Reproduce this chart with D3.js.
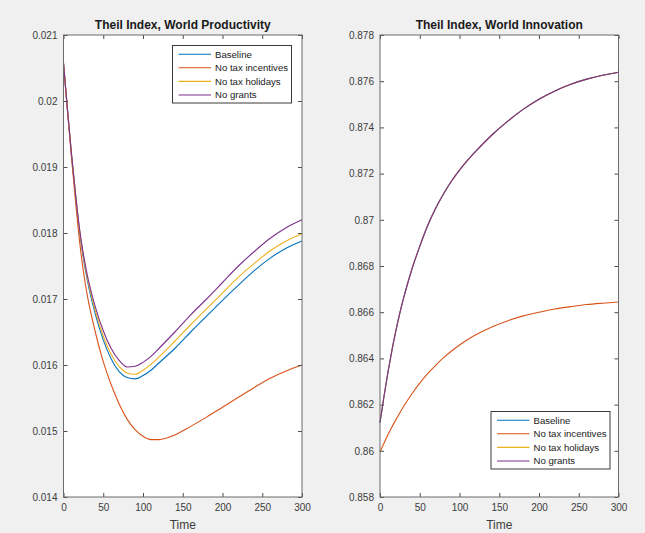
<!DOCTYPE html>
<html>
<head>
<meta charset="utf-8">
<script src="https://cdn.jsdelivr.net/npm/d3@7"></script>
<style>
  html, body { margin: 0; padding: 0; background: #f0f0f0; }
  svg { display: block; }
  text { font-family: "Liberation Sans", Arial, Helvetica, sans-serif; }
</style>
</head>
<body>
<svg id="fig" width="645" height="533"></svg>
<script>
// Simulation periods
const time = [0, 5, 10, 15, 20, 25, 30, 40, 50, 60, 70, 80, 90, 100, 110, 120,
              140, 160, 180, 200, 220, 240, 260, 280, 300];

// Theil index of world productivity, per scenario
const prodBaseline = [0.02057, 0.01987, 0.01920, 0.01860, 0.01804, 0.01762, 0.01728, 0.01677, 0.01638,
  0.01609, 0.01590, 0.01581, 0.01579, 0.01584, 0.01592, 0.01603, 0.01625, 0.01650, 0.01674, 0.01698,
  0.01721, 0.01743, 0.01762, 0.01777, 0.01788];
const prodNoIncentives = [0.02057, 0.01985, 0.01915, 0.01850, 0.01790, 0.01742, 0.01705, 0.01650, 0.01605,
  0.01570, 0.01541, 0.01518, 0.01502, 0.01492, 0.01487, 0.01487, 0.01494, 0.01507, 0.01521, 0.01536,
  0.01551, 0.01566, 0.01580, 0.01591, 0.01600];
const prodNoHolidays = [0.02057, 0.01987, 0.01920, 0.01860, 0.01806, 0.01765, 0.01732, 0.01682, 0.01644,
  0.01616, 0.01598, 0.01588, 0.01586, 0.01592, 0.01601, 0.01612, 0.01636, 0.01661, 0.01685, 0.01709,
  0.01733, 0.01754, 0.01773, 0.01788, 0.01799];
const prodNoGrants = [0.02057, 0.01987, 0.01920, 0.01860, 0.01808, 0.01768, 0.01736, 0.01688, 0.01652,
  0.01625, 0.01607, 0.01597, 0.01598, 0.01604, 0.01613, 0.01625, 0.01650, 0.01676, 0.01700, 0.01725,
  0.01750, 0.01772, 0.01792, 0.01808, 0.01820];

// Theil index of world innovation, per scenario
const innoBaseline = [0.86122, 0.86235, 0.86340, 0.86435, 0.86520, 0.86597, 0.86665, 0.86785, 0.86885,
  0.86975, 0.87050, 0.87113, 0.87168, 0.87215, 0.87257, 0.87295, 0.87365, 0.87425, 0.87478, 0.87522,
  0.87558, 0.87587, 0.87609, 0.87626, 0.87639];
const innoNoIncentives = [0.85995, 0.86033, 0.86069, 0.86103, 0.86135, 0.86165, 0.86194, 0.86246, 0.86293,
  0.86334, 0.86370, 0.86403, 0.86432, 0.86458, 0.86481, 0.86501, 0.86535, 0.86562, 0.86584, 0.86600,
  0.86614, 0.86624, 0.86633, 0.86639, 0.86644];
const innoNoHolidays = [0.86122, 0.86235, 0.86340, 0.86435, 0.86520, 0.86597, 0.86665, 0.86785, 0.86885,
  0.86975, 0.87050, 0.87113, 0.87168, 0.87215, 0.87257, 0.87295, 0.87365, 0.87425, 0.87478, 0.87522,
  0.87558, 0.87587, 0.87609, 0.87626, 0.87639];
const innoNoGrants = [0.86122, 0.86235, 0.86340, 0.86435, 0.86520, 0.86597, 0.86665, 0.86785, 0.86885,
  0.86975, 0.87050, 0.87113, 0.87168, 0.87215, 0.87257, 0.87295, 0.87365, 0.87425, 0.87478, 0.87522,
  0.87558, 0.87587, 0.87609, 0.87626, 0.87639];

const seriesNames = ["Baseline", "No tax incentives", "No tax holidays", "No grants"];
const seriesColors = ["#0072BD", "#D95319", "#EDB120", "#7E2F8E"];

const timeTicks = [0, 50, 100, 150, 200, 250, 300];
const prodTicks = [0.014, 0.015, 0.016, 0.017, 0.018, 0.019, 0.020, 0.021];
const innoTicks = [0.858, 0.860, 0.862, 0.864, 0.866, 0.868, 0.870, 0.872, 0.874, 0.876, 0.878];

const svg = d3.select("#fig");
const fmt = d => String(+d.toFixed(3));

function panel(opts) {
  const { left, right, top, bottom, yDomain, yTicks, title, series, legendAt } = opts;
  const x = d3.scaleLinear().domain([0, 300]).range([left, right]);
  const y = d3.scaleLinear().domain(yDomain).range([bottom, top]);
  const g = svg.append("g");

  g.append("rect")
    .attr("x", left).attr("y", top)
    .attr("width", right - left).attr("height", bottom - top)
    .attr("fill", "#ffffff");

  const line = d3.line()
    .x((d, i) => x(time[i]))
    .y(d => y(d))
    .curve(d3.curveMonotoneX);

  series.forEach((vals, k) => {
    g.append("path")
      .datum(vals)
      .attr("d", line)
      .attr("fill", "none")
      .attr("stroke", seriesColors[k])
      .attr("stroke-width", 1.1);
  });

  const styleAxis = sel => {
    sel.select(".domain").remove();
    sel.selectAll("line").attr("stroke", "#4d4d4d");
    sel.selectAll("text").attr("fill", "#3c3c3c").style("font-size", "10px");
  };

  g.append("g").attr("transform", `translate(0,${bottom})`)
    .call(d3.axisBottom(x).tickValues(timeTicks).tickSize(-4).tickPadding(7).tickFormat(d3.format("d")))
    .call(styleAxis);
  g.append("g").attr("transform", `translate(0,${top})`)
    .call(d3.axisTop(x).tickValues(timeTicks).tickSize(-4).tickFormat(""))
    .call(styleAxis);
  g.append("g").attr("transform", `translate(${left},0)`)
    .call(d3.axisLeft(y).tickValues(yTicks).tickSize(-4).tickPadding(6).tickFormat(fmt))
    .call(styleAxis);
  g.append("g").attr("transform", `translate(${right},0)`)
    .call(d3.axisRight(y).tickValues(yTicks).tickSize(-4).tickFormat(""))
    .call(styleAxis);

  g.append("rect")
    .attr("x", left).attr("y", top)
    .attr("width", right - left).attr("height", bottom - top)
    .attr("fill", "none").attr("stroke", "#6b6b6b").attr("stroke-width", 1);

  g.append("text")
    .attr("x", (left + right) / 2).attr("y", top - 6)
    .attr("text-anchor", "middle")
    .style("font-size", "12px").style("font-weight", "bold")
    .attr("fill", "#1a1a1a")
    .text(title);

  g.append("text")
    .attr("x", (left + right) / 2).attr("y", bottom + 32)
    .attr("text-anchor", "middle")
    .style("font-size", "12px")
    .attr("fill", "#3c3c3c")
    .text("Time");

  // legend
  const lg = g.append("g").attr("transform", `translate(${legendAt[0]},${legendAt[1]})`);
  lg.append("rect")
    .attr("x", 0).attr("y", 0).attr("width", 119).attr("height", 57.5)
    .attr("fill", "#ffffff").attr("stroke", "#3a3a3a").attr("stroke-width", 1);
  seriesNames.forEach((name, k) => {
    const yy = 8.7 + k * 13.6;
    lg.append("line")
      .attr("x1", 6).attr("x2", 38.5).attr("y1", yy).attr("y2", yy)
      .attr("stroke", seriesColors[k]).attr("stroke-width", 1.1);
    lg.append("text")
      .attr("x", 42.5).attr("y", yy).attr("dy", "0.35em")
      .style("font-size", "9.6px").attr("fill", "#1a1a1a")
      .text(name);
  });
}

panel({
  left: 63.5, right: 302, top: 35, bottom: 497,
  yDomain: [0.014, 0.021], yTicks: prodTicks,
  title: "Theil Index, World Productivity",
  series: [prodBaseline, prodNoIncentives, prodNoHolidays, prodNoGrants],
  legendAt: [172.5, 45.5]
});

panel({
  left: 380, right: 618.5, top: 35, bottom: 497,
  yDomain: [0.858, 0.878], yTicks: innoTicks,
  title: "Theil Index, World Innovation",
  series: [innoBaseline, innoNoIncentives, innoNoHolidays, innoNoGrants],
  legendAt: [491, 411.5]
});
</script>
</body>
</html>
